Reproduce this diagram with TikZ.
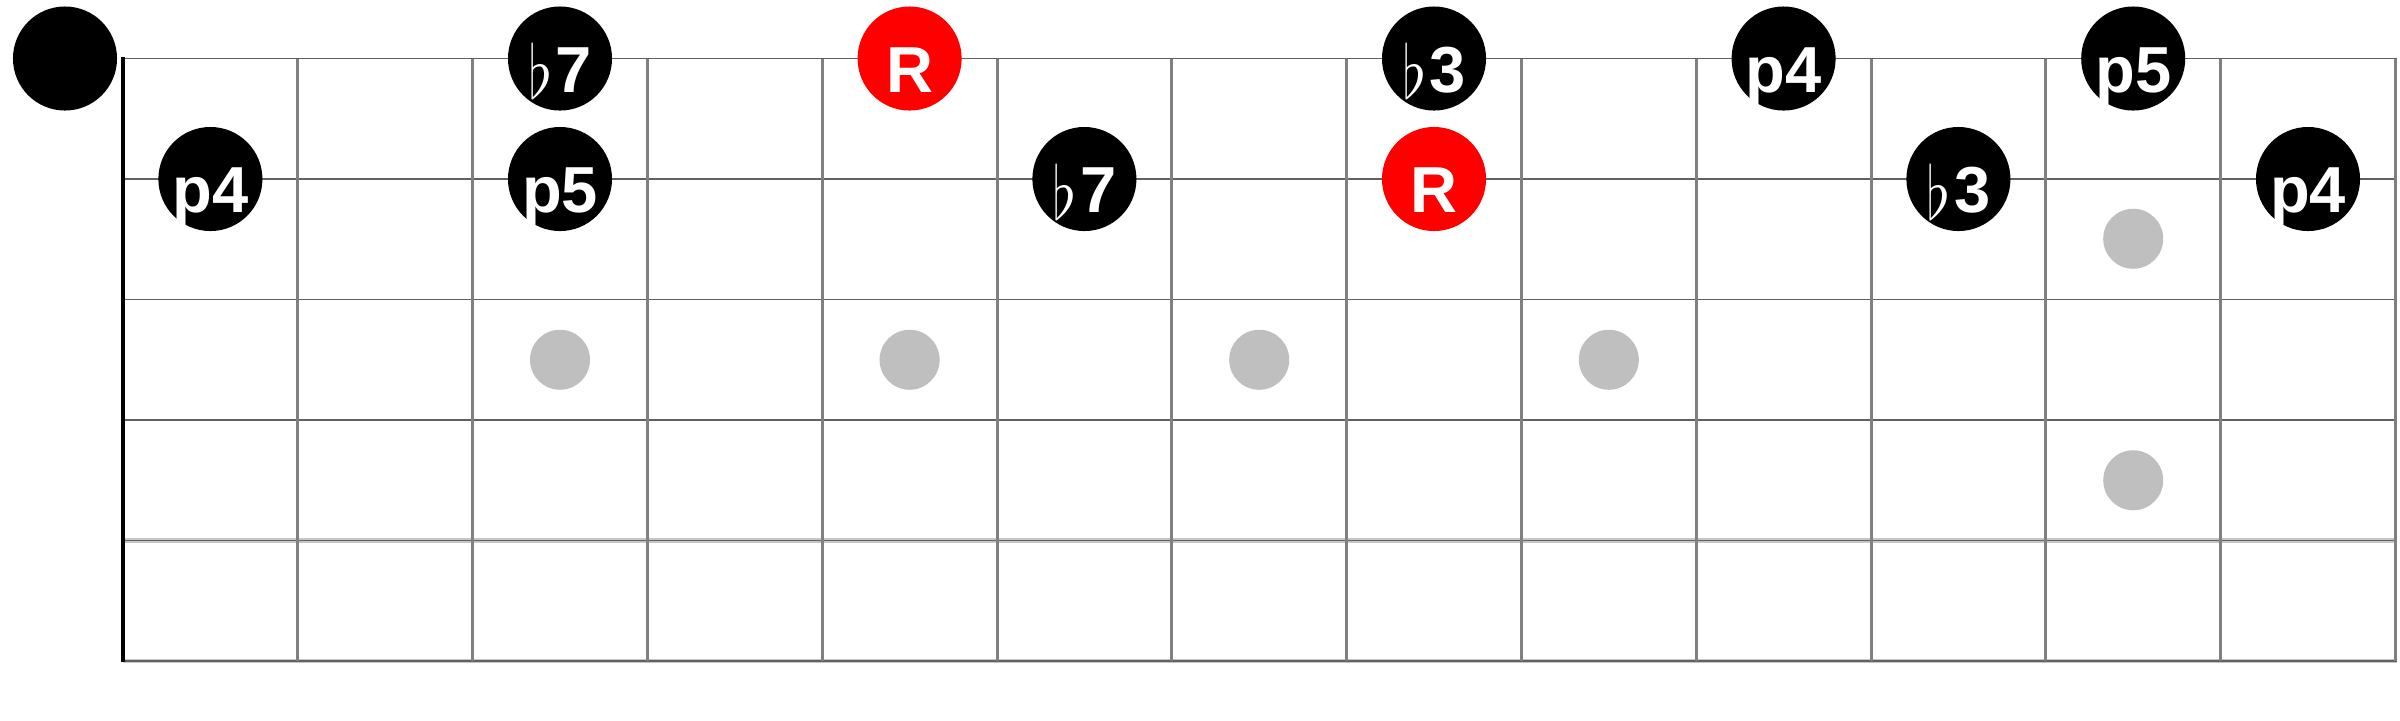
\documentclass[tikz,border=0pt]{standalone}
\usepackage{fontspec}
\usepackage{graphicx}
\setmainfont{Liberation Sans}
\colorlet{fret line}{gray}
\colorlet{string line}{black!62}
\colorlet{string shade}{gray!45}
\colorlet{marker dot}{gray!50}
\colorlet{root note}{red}
\tikzset{
  note/.style={circle, fill=black, minimum size=1.04cm, inner sep=0pt},
  root/.style={note, fill=root note},
  marker/.style={circle, fill=marker dot, minimum size=0.6cm, inner sep=0pt}
  }
\tikzstyle{fret} = [draw, line width=0.03cm, fret line]
\tikzstyle{nut} = [draw, line width=0.035cm, black]
\tikzstyle{guitar string} = [draw, line width=0.017cm, string line]
\tikzstyle{thick string} = [draw, line width=0.042cm, string shade]
\tikzstyle{degree} = [text=white, font=\bfseries\fontsize{18.5}{20}\selectfont, anchor=base, inner sep=0pt]
\newcommand{\fl}{\raisebox{-0.1em}{\scalebox{1.05}[1.22]{$\flat$}}\kern0.05em}

\begin{document}
\begin{tikzpicture}[x=0.01cm, y=-0.01cm]
    \useasboundingbox (0,0) rectangle (2400,720);

    % The strings
    \foreach \y in {540.5, 661} {
      \path[thick string] (123,\y) -- (2397,\y);
    }
    \foreach \y in {58.5, 179, 299.5, 420, 540.5, 661} {
      \path[guitar string] (123,\y) -- (2397,\y);
    }

    % the frets and the nut
    \foreach \i in {1,...,13} {
      \path[fret] ({123+174.8*\i},58.5) -- ({123+174.8*\i},661);
    }
    \path[nut] (123,57) -- (123,662);

    % The inlay dots
    \foreach \pos/\name in {{(560,359.75)/d3}, {(909.6,359.75)/d5}, {(1259.2,359.75)/d7}, {(1608.8,359.75)/d9}, {(2133.2,238.75)/d12a}, {(2133.2,480.25)/d12b}} {
      \node[marker] (\name) at \pos {};
    }

    % the open string
    \node[note] (s1f0) at (65,58.5) {};

    % The scale notes
    \foreach \pos/\name/\deg in {{(560,58.5)/s1f3/\fl7}, {(1434,58.5)/s1f8/\fl3}, {(1783.6,58.5)/s1f10/p4}, {(2133.2,58.5)/s1f12/p5}, {(210.4,179)/s2f1/p4}, {(560,179)/s2f3/p5}, {(1084.4,179)/s2f6/\fl7}, {(1958.4,179)/s2f11/\fl3}, {(2308,179)/s2f13/p4}} {
      \node[note] (\name) at \pos {};
      \node[degree] at ([yshift=-0.335cm]\name.center) {\deg};
    }

    % the roots
    \foreach \pos/\name in {{(909.6,58.5)/s1f5}, {(1434,179)/s2f8}} {
      \node[root] (\name) at \pos {};
      \node[degree] at ([yshift=-0.335cm]\name.center) {R};
    }

\end{tikzpicture}
\end{document}
